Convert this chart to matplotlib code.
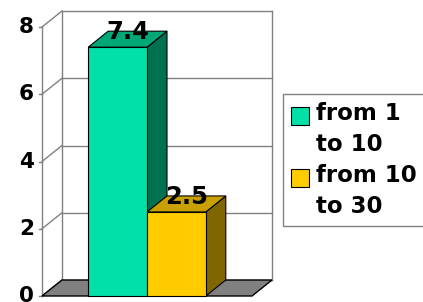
import matplotlib.pyplot as plt
from matplotlib.patches import Polygon, Rectangle, Patch
from matplotlib.legend_handler import HandlerPatch

# chart data
series = ["from 1\nto 10", "from 10\nto 30"]
values = [7.4, 2.5]
labels = ["7.4", "2.5"]
yticks = [0, 2, 4, 6, 8]

front_cols = ["#00E0A8", "#FFCC00"]
top_cols = ["#00A878", "#C8A000"]
side_cols = ["#007050", "#806600"]

W, H = 423, 302
fig = plt.figure(figsize=(W / 100, H / 100), dpi=100)
ax = fig.add_axes([0, 0, 1, 1])
ax.axis("off")

# map pixels -> data: front wall x 42..252 is 0..1, y 296..27 is 0..8
px_x = 210.0
px_y = (296 - 27) / 8.0
ax.set_xlim(-42 / px_x, (W - 42) / px_x)
ax.set_ylim(-(H - 296) / px_y, 296 / px_y)

dx = 20 / px_x   # depth offset
dy = 16 / px_y
ymax = 8
grid = "#808080"

# floor
ax.add_patch(Polygon([(0, 0), (1, 0), (1 + dx, dy), (dx, dy)], closed=True,
                     facecolor="#808080", edgecolor="black", lw=1, zorder=1))

# back wall gridlines and edges
for v in yticks:
    ax.plot([dx, 1 + dx], [v + dy, v + dy], color=grid, lw=1, zorder=0.5)
    ax.plot([0, dx], [v, v + dy], color=grid, lw=1, zorder=0.5)
    ax.plot([-3 / px_x, 0], [v, v], color=grid, lw=1, zorder=0.5)
    ax.text(-8 / px_x, v, str(v), ha="right", va="center", fontsize=15.5,
            fontweight="bold")
ax.plot([dx, dx], [dy, ymax + dy], color=grid, lw=1, zorder=0.5)
ax.plot([1 + dx, 1 + dx], [dy, ymax + dy], color=grid, lw=1, zorder=0.5)
ax.plot([0, 0], [0, ymax], color=grid, lw=1, zorder=0.5)

# bars: front face, top and right side
bw = 0.28
x0 = 0.5 - bw * len(values) / 2
z = 2
for i, v in enumerate(values):
    xl = x0 + i * bw
    xr = xl + bw
    ax.add_patch(Polygon([(xr, 0), (xr + dx, dy), (xr + dx, v + dy), (xr, v)],
                         closed=True, facecolor=side_cols[i], edgecolor="black",
                         lw=0.8, zorder=z))
    ax.add_patch(Polygon([(xl, v), (xr, v), (xr + dx, v + dy), (xl + dx, v + dy)],
                         closed=True, facecolor=top_cols[i], edgecolor="black",
                         lw=0.8, zorder=z))
    ax.add_patch(Rectangle((xl, 0), bw, v, facecolor=front_cols[i],
                           edgecolor="black", lw=0.8, zorder=z))
    ax.text(xl + bw / 2 + dx / 2, v + dy * 0.95, labels[i], ha="center",
            va="center", fontsize=17.5, fontweight="bold", zorder=z + 1)
    z += 1


# legend square sits next to the first line of the label
class TopPatch(HandlerPatch):
    def create_artists(self, legend, orig_handle, xdescent, ydescent,
                       width, height, fontsize, trans):
        p = Rectangle((-xdescent, -ydescent + 0.62 * fontsize), width, height,
                      facecolor=orig_handle.get_facecolor(),
                      edgecolor="black", lw=0.8, transform=trans)
        return [p]


handles = [Patch(facecolor=front_cols[i], edgecolor="black", lw=0.8)
           for i in range(len(series))]
leg = fig.legend(handles, series, loc="upper left",
                 bbox_to_anchor=(283 / W, 1 - 94 / H), borderaxespad=0,
                 fancybox=False, framealpha=1, edgecolor="#808080",
                 handlelength=0.8, handleheight=0.8, handletextpad=0.3,
                 borderpad=0.35, labelspacing=0.35,
                 handler_map={Patch: TopPatch()},
                 prop={"size": 16.5, "weight": "bold"})
leg.get_frame().set_linewidth(1)
for t in leg.get_texts():
    t.set_linespacing(1.45)

fig.savefig("out.png", dpi=100)
